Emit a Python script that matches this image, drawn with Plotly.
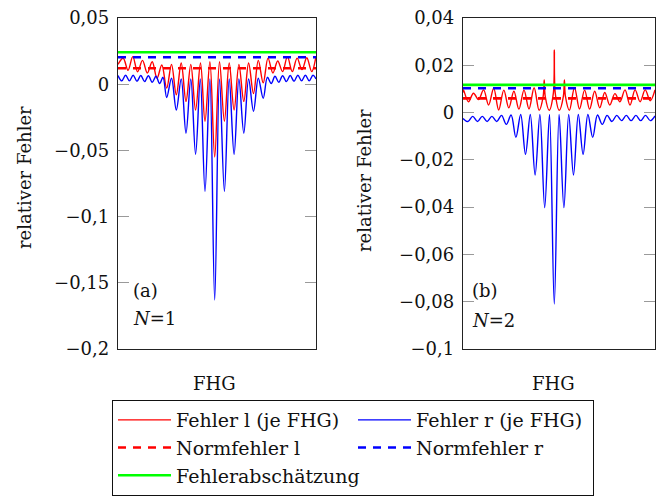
import plotly.graph_objects as go

# ---------------- data (FHG position, relative error) ----------------
# panel (a), N=1
a_fehler_l_x = [0, 5.2, 10.0, 14.8, 19.6, 24.5, 29.3, 34.2, 39.0, 43.8, 48.7, 53.5, 58.3, 63.2, 68.0,
                72.8, 77.6, 82.5, 87.0, 91.9, 96.7, 101.5, 106.4, 111.2, 116.1, 120.9, 125.8, 130.6,
                135.5, 140.3, 145.2, 150.0, 154.9, 159.7, 164.6, 169.4, 174.3, 179.1, 184.0, 188.8,
                193.7, 198]
a_fehler_l_y = [0.015, 0.0196, 0.0105, 0.0208, 0.0094, 0.018, 0.0085, 0.017, 0.0045, 0.0145, -0.003,
                0.015, -0.008, 0.016, -0.013, 0.015, -0.0195, 0.016, -0.028, 0.017, -0.055, 0.017,
                -0.028, 0.016, -0.0195, 0.015, -0.013, 0.016, -0.007, 0.018, 0.001, 0.0197, 0.0085,
                0.0175, 0.0095, 0.0208, 0.0095, 0.0197, 0.011, 0.020, 0.0095, 0.021]

a_fehler_r_x = [0, 3.8, 7.6, 11.4, 15.2, 19.0, 22.8, 26.6, 30.4, 34.2, 38.0, 41.6, 45.0, 48.7, 53.5,
                58.3, 63.2, 68.0, 72.8, 77.6, 82.3, 87.0, 91.9, 96.7, 101.5, 106.4, 111.2, 116.1,
                120.9, 125.8, 130.6, 135.5, 140.3, 145.2, 149.4, 153.2, 157.0, 160.8, 164.6, 168.4,
                172.2, 176.0, 179.8, 183.6, 187.4, 191.2, 195.0, 198]
a_fehler_r_y = [0.0065, 0.0025, 0.0068, 0.0025, 0.0068, 0.0022, 0.0066, 0.002, 0.0064, 0.0015, 0.006,
                0.0005, 0.0052, -0.010, 0.0045, -0.0195, 0.004, -0.037, 0.004, -0.053, 0.004, -0.081,
                0.004, -0.163, 0.004, -0.081, 0.004, -0.053, 0.004, -0.037, 0.004, -0.0205, 0.0045,
                -0.0107, 0.0052, 0.0005, 0.006, 0.0015, 0.0064, 0.002, 0.0066, 0.0022, 0.0068, 0.0025,
                0.0068, 0.0025, 0.0068, 0.004]

a_range_x = [0, 198]
a_normfehler_l = 0.012
a_normfehler_r = 0.0204
a_abschaetzung = 0.0241

# panel (b), N=2
b_fehler_l_x = [0, 0.4, 5.4, 10.5, 15.5, 20.6, 25.6, 30.7, 35.7, 40.8, 45.8, 50.9, 55.9, 61.0, 66.0,
                71.1, 76.1, 80.2, 81.2, 82.2, 86.2, 90.3, 91.3, 92.3, 96.3, 100.4, 101.4, 102.4,
                106.4, 111.5, 116.5, 121.6, 126.6, 131.7, 136.7, 141.8, 146.8, 151.9, 156.9, 162.0,
                167.0, 172.1, 177.1, 182.2, 187.2, 192]
b_fehler_l_y = [0.0085, 0.0096, 0.0046, 0.0082, 0.0055, 0.0096, 0.0032, 0.0103, 0.0011, 0.0095, 0.002,
                0.009, 0.0015, 0.0095, 0.0015, 0.0105, 0.001, 0.007, 0.0138, 0.007, 0.001, 0.008,
                0.0265, 0.008, 0.001, 0.007, 0.0138, 0.007, 0.001, 0.0105, 0.0015, 0.0095, 0.0015,
                0.009, 0.002, 0.0085, 0.0032, 0.008, 0.0046, 0.0096, 0.0032, 0.0096, 0.0046, 0.0096,
                0.005, 0.0096]

b_fehler_r_x = [0, 4.9, 9.7, 14.5, 19.3, 24.1, 28.9, 33.7, 38.5, 43.3, 48.1, 52.9, 57.7, 62.5, 67.3,
                72.1, 76.9, 81.7, 86.5, 91.3, 96.1, 100.9, 105.7, 110.5, 115.3, 120.1, 124.9, 129.7,
                134.5, 139.3, 144.1, 148.9, 153.7, 158.5, 163.3, 168.1, 172.9, 177.7, 182.5, 187.3, 192]
b_fehler_r_y = [-0.0025, -0.0038, -0.0016, -0.0038, -0.0016, -0.0038, -0.0016, -0.0038, -0.0012,
                -0.0050, -0.0010, -0.0105, -0.0008, -0.0177, -0.0008, -0.0264, -0.0008, -0.0402,
                -0.0008, -0.0810, -0.0008, -0.0402, -0.0008, -0.0264, -0.0008, -0.0177, -0.0008,
                -0.0105, -0.0010, -0.0050, -0.0012, -0.0038, -0.0012, -0.0034, -0.0012, -0.0034,
                -0.0012, -0.0034, -0.0012, -0.0034, -0.0014]

b_range_x = [0, 192]
b_normfehler_l = 0.006
b_normfehler_r = 0.0103
b_abschaetzung = 0.0117

a_ticks = [0.05, 0, -0.05, -0.1, -0.15, -0.2]
a_ticktext = ["0,05", "0", "\u22120,05", "\u22120,1", "\u22120,15", "\u22120,2"]
b_ticks = [0.04, 0.02, 0, -0.02, -0.04, -0.06, -0.08, -0.1]
b_ticktext = ["0,04", "0,02", "0", "\u22120,02", "\u22120,04", "\u22120,06", "\u22120,08", "\u22120,1"]

names = ["Fehler l (je FHG)", "Fehler r (je FHG)", "Normfehler l", "Normfehler r", "Fehlerabschätzung"]

# ---------------- figure ----------------
W, H = 664, 501
FONT = "DejaVu Serif"
FS = 18
RED, BLUE, GREEN = "#ff0000", "#0000ff", "#00ff00"

fig = go.Figure()


def add_panel(xa, ya, lx, ly, rx, ry, xr, nl, nr, ab, show):
    fig.add_trace(go.Scatter(x=lx, y=ly, mode="lines", line=dict(color=RED, width=1.4, shape="spline"),
                             name=names[0], showlegend=show, xaxis=xa, yaxis=ya))
    fig.add_trace(go.Scatter(x=rx, y=ry, mode="lines", line=dict(color=BLUE, width=1.4, shape="spline"),
                             name=names[1], showlegend=show, xaxis=xa, yaxis=ya))
    fig.add_trace(go.Scatter(x=xr, y=[nl, nl], mode="lines", line=dict(color=RED, width=2.6, dash="8px,7px"),
                             name=names[2], showlegend=show, xaxis=xa, yaxis=ya))
    fig.add_trace(go.Scatter(x=xr, y=[nr, nr], mode="lines", line=dict(color=BLUE, width=2.6, dash="8px,7px"),
                             name=names[3], showlegend=show, xaxis=xa, yaxis=ya))
    fig.add_trace(go.Scatter(x=xr, y=[ab, ab], mode="lines", line=dict(color=GREEN, width=2.6),
                             name=names[4], showlegend=show, xaxis=xa, yaxis=ya))


add_panel("x", "y", a_fehler_l_x, a_fehler_l_y, a_fehler_r_x, a_fehler_r_y, a_range_x,
          a_normfehler_l, a_normfehler_r, a_abschaetzung, True)
add_panel("x2", "y2", b_fehler_l_x, b_fehler_l_y, b_fehler_r_x, b_fehler_r_y, b_range_x,
          b_normfehler_l, b_normfehler_r, b_abschaetzung, False)

ydom = [1 - 349 / H, 1 - 18 / H]
xcommon = dict(showticklabels=False, ticks="", showgrid=False, zeroline=False, automargin=False,
               showline=True, linecolor="#222", linewidth=1.3, mirror=True)
ycommon = dict(ticks="inside", ticklen=11, tickwidth=1.2, tickcolor="#9a9a9a", showgrid=False,
               zeroline=False, showline=True, linecolor="#222", linewidth=1.3, mirror="ticks",
               automargin=False,
               tickfont=dict(family=FONT, size=FS, color="#111"), ticklabelstandoff=4)

fig.update_layout(
    width=W, height=H,
    margin=dict(l=0, r=0, t=0, b=0, autoexpand=False),
    paper_bgcolor="white", plot_bgcolor="white",
    font=dict(family=FONT, size=FS, color="#111"),
    xaxis=dict(domain=[118 / W, 316 / W], range=a_range_x, anchor="y", **xcommon),
    yaxis=dict(domain=ydom, range=[-0.2, 0.05], tickvals=a_ticks, ticktext=a_ticktext, anchor="x", **ycommon),
    xaxis2=dict(domain=[463 / W, 655 / W], range=b_range_x, anchor="y2", **xcommon),
    yaxis2=dict(domain=ydom, range=[-0.1, 0.04], tickvals=b_ticks, ticktext=b_ticktext, anchor="x2", **ycommon),
    legend=dict(orientation="h", x=112 / W, y=1 - 400 / H, xanchor="left", yanchor="top",
                bordercolor="#111", borderwidth=1, bgcolor="white",
                font=dict(family=FONT, size=19, color="#111"),
                entrywidth=172, itemwidth=53, traceorder="normal"),
)

ann = [
    ("(a)", 131, 290, "left", 0), ("<i>N</i>=1", 131, 318, "left", 0),
    ("(b)", 470, 290, "left", 0), ("<i>N</i>=2", 470, 320, "left", 0),
    ("FHG", 215, 383, "center", 0), ("FHG", 553, 383, "center", 0),
    ("relativer Fehler", 24, 178, "center", -90), ("relativer Fehler", 365, 180, "center", -90),
]
for text, px, py, xanc, ang in ann:
    fig.add_annotation(text=text, x=px / W, y=1 - py / H, xref="paper", yref="paper",
                       xanchor=xanc, yanchor="middle", showarrow=False, textangle=ang,
                       font=dict(family=FONT, size=FS, color="#111"))

fig.write_html("out.html", config={"displayModeBar": False},
               post_script="document.body.style.margin='0px';document.body.style.overflow='hidden';")
